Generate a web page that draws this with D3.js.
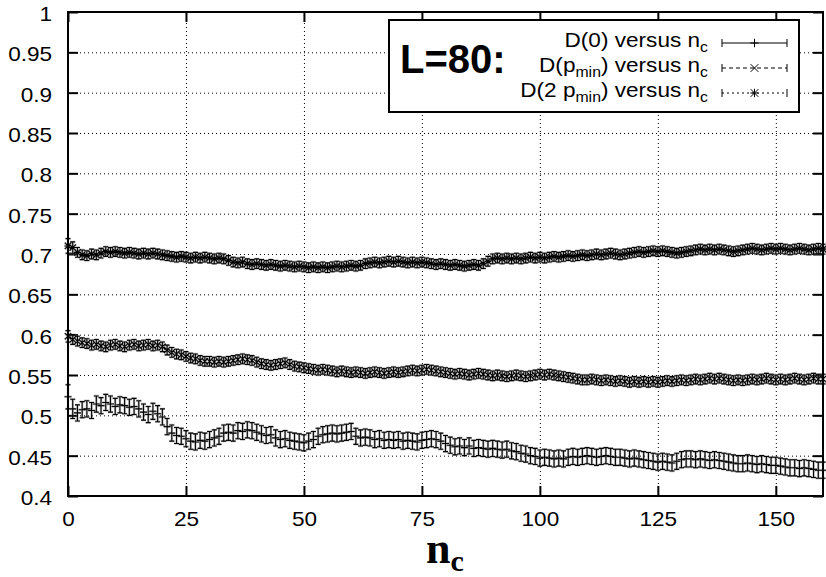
<!DOCTYPE html>
<html><head><meta charset="utf-8">
<script src="https://cdn.jsdelivr.net/npm/d3@7"></script>
<style>body{margin:0;background:#fff} svg{display:block}</style>
</head><body><svg id="c" width="826" height="577"></svg>
<script>
// ---- data ----
const ncStart = 0, ncEnd = 160;
const D0 = [
0.523,0.508,0.503,0.507,0.508,0.506,0.514,0.512,0.516,0.514,
0.511,0.513,0.512,0.510,0.511,0.508,0.504,0.501,0.505,0.502,
0.498,0.486,0.478,0.475,0.474,0.471,0.468,0.467,0.469,0.468,
0.470,0.472,0.474,0.478,0.479,0.478,0.481,0.480,0.482,0.481,
0.479,0.477,0.475,0.476,0.472,0.470,0.471,0.469,0.468,0.467,
0.466,0.468,0.470,0.474,0.476,0.477,0.478,0.477,0.478,0.479,
0.480,0.474,0.472,0.473,0.472,0.470,0.471,0.469,0.470,0.469,
0.470,0.468,0.469,0.468,0.467,0.469,0.470,0.471,0.470,0.468,
0.465,0.463,0.461,0.462,0.460,0.462,0.459,0.460,0.459,0.458,
0.459,0.458,0.457,0.458,0.456,0.455,0.453,0.452,0.450,0.449,
0.447,0.448,0.447,0.446,0.447,0.446,0.448,0.449,0.448,0.449,
0.450,0.449,0.448,0.449,0.450,0.449,0.448,0.448,0.447,0.446,
0.447,0.446,0.445,0.444,0.443,0.442,0.443,0.442,0.441,0.443,
0.445,0.446,0.446,0.445,0.446,0.445,0.444,0.445,0.444,0.443,
0.442,0.441,0.440,0.440,0.441,0.440,0.439,0.440,0.439,0.438,
0.438,0.437,0.436,0.435,0.435,0.434,0.435,0.434,0.433,0.432,
0.432];
const Dpmin = [
0.598,0.594,0.592,0.590,0.589,0.587,0.588,0.586,0.585,0.587,
0.588,0.586,0.585,0.587,0.588,0.586,0.587,0.588,0.586,0.587,
0.585,0.581,0.578,0.576,0.575,0.573,0.571,0.570,0.568,0.567,
0.567,0.566,0.567,0.566,0.567,0.568,0.569,0.570,0.569,0.568,
0.566,0.564,0.563,0.562,0.563,0.564,0.565,0.563,0.561,0.560,
0.559,0.558,0.557,0.556,0.557,0.556,0.555,0.554,0.555,0.554,
0.553,0.554,0.553,0.552,0.553,0.554,0.553,0.552,0.553,0.554,
0.553,0.554,0.555,0.556,0.555,0.556,0.557,0.556,0.555,0.554,
0.553,0.552,0.551,0.552,0.551,0.550,0.551,0.552,0.551,0.550,
0.549,0.550,0.549,0.548,0.549,0.550,0.549,0.548,0.549,0.550,
0.551,0.550,0.551,0.550,0.549,0.548,0.547,0.546,0.545,0.544,
0.544,0.545,0.544,0.543,0.544,0.543,0.542,0.543,0.542,0.541,
0.542,0.541,0.542,0.541,0.542,0.541,0.542,0.543,0.542,0.543,
0.544,0.543,0.544,0.545,0.544,0.545,0.546,0.545,0.546,0.545,
0.544,0.543,0.544,0.543,0.544,0.545,0.544,0.545,0.546,0.545,
0.544,0.545,0.544,0.545,0.546,0.545,0.544,0.545,0.546,0.545,
0.545];
const D2pmin = [
0.710,0.708,0.702,0.699,0.698,0.700,0.699,0.701,0.703,0.702,
0.703,0.702,0.701,0.702,0.701,0.700,0.701,0.700,0.701,0.700,
0.699,0.698,0.697,0.696,0.697,0.696,0.695,0.696,0.695,0.696,
0.695,0.694,0.695,0.694,0.692,0.690,0.689,0.690,0.688,0.687,
0.688,0.687,0.686,0.687,0.686,0.685,0.686,0.685,0.684,0.685,
0.684,0.683,0.684,0.683,0.684,0.683,0.684,0.685,0.684,0.685,
0.686,0.685,0.686,0.688,0.689,0.690,0.689,0.690,0.691,0.690,
0.691,0.690,0.689,0.690,0.689,0.690,0.689,0.688,0.687,0.688,
0.687,0.686,0.687,0.686,0.685,0.686,0.687,0.686,0.688,0.691,
0.694,0.695,0.694,0.695,0.694,0.695,0.694,0.695,0.696,0.695,
0.696,0.695,0.696,0.697,0.696,0.697,0.698,0.697,0.698,0.699,
0.698,0.699,0.700,0.699,0.700,0.701,0.700,0.699,0.700,0.701,
0.702,0.703,0.702,0.703,0.704,0.703,0.704,0.703,0.702,0.701,
0.702,0.703,0.704,0.705,0.706,0.705,0.706,0.705,0.706,0.705,
0.704,0.703,0.704,0.705,0.706,0.707,0.706,0.705,0.706,0.707,
0.706,0.707,0.706,0.705,0.706,0.707,0.706,0.705,0.706,0.707,
0.706];
// error bars: first values listed, then a constant
const errD0Start = [0.015, 0.012], errD0 = 0.010;
const errDpminStart = [0.007], errDpmin = 0.006;
const errD2pminStart = [0.009, 0.007], errD2pmin = 0.006;
const xTicks = [0,25,50,75,100,125,150];
const yTicks = [0.4,0.45,0.5,0.55,0.6,0.65,0.7,0.75,0.8,0.85,0.9,0.95,1];
const legendTitle = "L=80:";

// ---- layout ----
const m = {l:68, r:823, t:12, b:496};
const svg = d3.select('#c');
const x = d3.scaleLinear().domain([0,160]).range([m.l, m.r]);
const y = d3.scaleLinear().domain([0.4,1]).range([m.b, m.t]);
const FONT = "'Liberation Sans', Arial, Helvetica, sans-serif";
const SX = 1.13;

// grid
svg.append('g').attr('transform',`translate(0,${m.b})`)
  .call(d3.axisBottom(x).tickValues(xTicks.filter(v=>v>0)).tickSize(-(m.b-m.t)).tickFormat(''))
  .call(g=>{g.select('.domain').remove();
    g.selectAll('line').attr('stroke','#000').attr('stroke-width',1).attr('stroke-dasharray','1,3');});
svg.append('g').attr('transform',`translate(${m.l},0)`)
  .call(d3.axisLeft(y).tickValues(yTicks.filter(v=>v>0.41 && v<0.99)).tickSize(-(m.r-m.l)).tickFormat(''))
  .call(g=>{g.select('.domain').remove();
    g.selectAll('line').attr('stroke','#000').attr('stroke-width',1).attr('stroke-dasharray','1,3');});

// axes with inward ticks
const styleAxis = g => {
  g.select('.domain').remove();
  g.selectAll('line').attr('stroke','#000').attr('stroke-width',2);
  g.selectAll('text').attr('font-family',FONT).attr('font-size',20).attr('fill','#000');
};
const left = svg.append('g').attr('transform',`translate(${m.l},0)`)
  .call(d3.axisLeft(y).tickValues(yTicks).tickSize(-10).tickPadding(14).tickFormat(d=>d3.format('')(+d.toFixed(2))))
  .call(styleAxis);
left.selectAll('text').attr('dy','0.42em').attr('transform',`scale(${SX},1)`);
const bottom = svg.append('g').attr('transform',`translate(0,${m.b})`)
  .call(d3.axisBottom(x).tickValues(xTicks).tickSize(-10).tickPadding(16))
  .call(styleAxis);
bottom.selectAll('.tick text').attr('dy','0.71em').attr('transform',`scale(${SX},1)`);
svg.append('g').attr('transform',`translate(${m.r},0)`)
  .call(d3.axisRight(y).tickValues(yTicks).tickSize(-10).tickFormat('')).call(styleAxis);
svg.append('g').attr('transform',`translate(0,${m.t})`)
  .call(d3.axisTop(x).tickValues(xTicks).tickSize(-10).tickFormat('')).call(styleAxis);

// ---- series ----
const cap = 2.5;
function marker(type, cx, cy, k) {
  k = k || 1;
  const s = 3.5*k, d = 3.2*k;
  let p = '';
  if (type==='plus' || type==='star') p += `M${cx-s},${cy}H${cx+s}M${cx},${cy-s}V${cy+s}`;
  if (type==='cross' || type==='star') p += `M${cx-d},${cy-d}L${cx+d},${cy+d}M${cx-d},${cy+d}L${cx+d},${cy-d}`;
  return p;
}
function drawSeries(vals, errStart, errBase, type) {
  let p = '';
  vals.forEach((v,i) => {
    const n = ncStart + i;
    const e = i < errStart.length ? errStart[i] : errBase;
    const cx = x(n), y1 = y(v-e), y2 = y(v+e);
    p += `M${cx},${y1}V${y2}M${cx-cap},${y1}H${cx+cap}M${cx-cap},${y2}H${cx+cap}`;
    p += marker(type, cx, y(v));
  });
  const g = svg.append('g');
  g.append('path').attr('d',p).attr('fill','none').attr('stroke','#777').attr('stroke-width',2.4).attr('stroke-opacity',0.45);
  g.append('path').attr('d',p).attr('fill','none').attr('stroke','#000').attr('stroke-width',1.1);
}
drawSeries(D0, errD0Start, errD0, 'plus');
drawSeries(Dpmin, errDpminStart, errDpmin, 'cross');
drawSeries(D2pmin, errD2pminStart, errD2pmin, 'star');

// frame
svg.append('rect').attr('x',m.l).attr('y',m.t).attr('width',m.r-m.l).attr('height',m.b-m.t)
  .attr('fill','none').attr('stroke','#000').attr('stroke-width',2);

// ---- legend ----
const lg = svg.append('g');
lg.append('rect').attr('x',389).attr('y',20).attr('width',410).attr('height',92)
  .attr('fill','#fff').attr('stroke','#000').attr('stroke-width',2);
lg.append('text').attr('x',400).attr('y',73).attr('font-family',FONT).attr('font-weight','bold')
  .attr('font-size',40).text(legendTitle);
const rows = [
  {parts:[['D(0) versus n',0],['c',1]], type:'plus', dash:null},
  {parts:[['D(p',0],['min',1],[') versus n',0],['c',1]], type:'cross', dash:'4,3'},
  {parts:[['D(2 p',0],['min',1],[') versus n',0],['c',1]], type:'star', dash:'2,3'}
];
rows.forEach((r,i) => {
  const base = 47 + i*25;
  const t = lg.append('text').attr('transform',`translate(708,${base}) scale(${SX},1)`)
    .attr('text-anchor','end').attr('font-family',FONT).attr('font-size',20);
  let sub = false;
  r.parts.forEach(([s,isSub]) => {
    const ts = t.append('tspan').text(s);
    if (isSub && !sub) { ts.attr('font-size',14).attr('dy',5); sub = true; }
    else if (!isSub && sub) { ts.attr('dy',-5); sub = false; }
  });
  const ly = base - 4, x1 = 722, x2 = 787;
  lg.append('path').attr('d',`M${x1},${ly}H${x2}`).attr('stroke','#000').attr('stroke-width',1)
    .attr('stroke-dasharray',r.dash);
  lg.append('path').attr('d',`M${x1},${ly-4}V${ly+4}M${x2},${ly-4}V${ly+4}`+marker(r.type,(x1+x2)/2,ly,1.2))
    .attr('stroke','#000').attr('stroke-width',1).attr('fill','none');
});

// ---- x-axis title ----
const xt = svg.append('text').attr('x',445).attr('y',563).attr('text-anchor','middle')
  .attr('font-family',"'Liberation Serif','Times New Roman',serif").attr('font-weight','bold').attr('font-size',44);
xt.append('tspan').text('n');
xt.append('tspan').text('c').attr('font-size',30).attr('dy',8);
</script></body></html>
